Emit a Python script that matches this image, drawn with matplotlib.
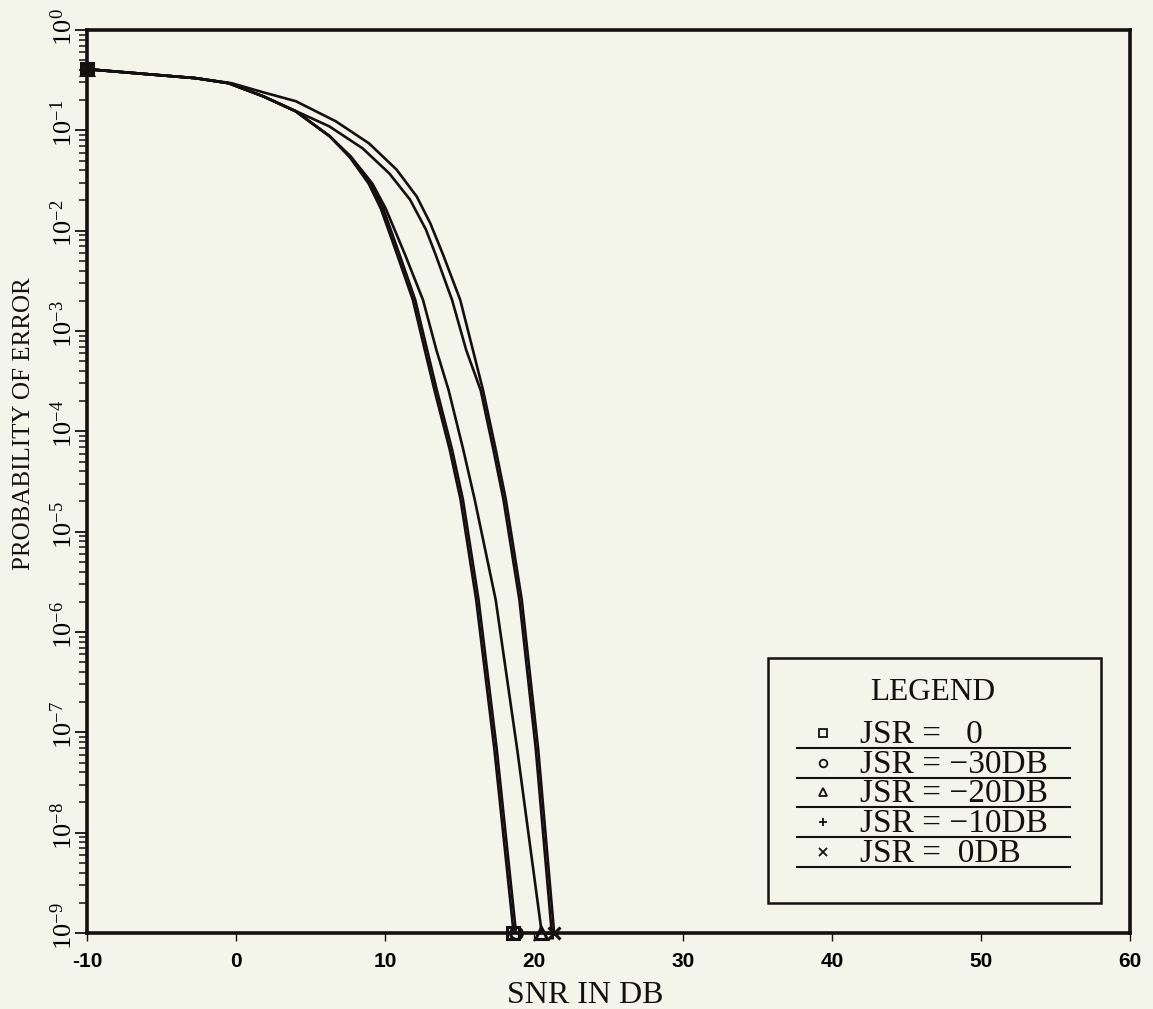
import matplotlib
matplotlib.use("Agg")
import matplotlib.pyplot as plt
import matplotlib.ticker as mticker
from matplotlib.patches import Rectangle
import numpy as np

plt.rcParams['font.family'] = ['Liberation Serif', 'DejaVu Serif']
plt.rcParams['mathtext.fontset'] = 'stix'
plt.rcParams['axes.unicode_minus'] = False

# ---------------- data ----------------
# probability-of-error levels shared by the JSR=0, -30 dB and -20 dB curves
pe_levels_ab = [0.407, 0.331, 0.295, 0.219, 0.155, 0.0871, 0.0550, 0.0295, 0.0166,
                5.75e-3, 2.04e-3, 6.46e-4, 2.57e-4, 6.6e-5, 2.09e-5, 2.09e-6, 6.8e-8,
                1.23e-9, 1.0e-9]
snr_jsr_none = [-10, -2.7, -0.5, 1.8, 4.0, 6.3, 7.6, 8.9, 9.72, 10.82, 11.87, 12.67,
                13.32, 14.34, 15.07, 16.12, 17.34, 18.57, 18.62]
snr_jsr_m30 = [-10, -2.7, -0.5, 1.8, 4.0, 6.3, 7.6, 9.06, 9.88, 10.98, 12.03, 12.83,
               13.48, 14.50, 15.23, 16.28, 17.50, 18.73, 18.78]
snr_jsr_m20 = [-10, -2.7, -0.5, 1.8, 4.0, 6.3, 7.7, 9.15, 10.05, 11.35, 12.55, 13.45,
               14.27, 15.25, 16.02, 17.43, 18.87, 20.44, 20.50]

pe_levels_m10 = [0.407, 0.331, 0.295, 0.219, 0.166, 0.1096, 0.0661, 0.0372, 0.0204,
                 0.01023, 5.75e-3, 2.04e-3, 6.46e-4, 2.57e-4, 6.6e-5, 2.09e-5, 2.09e-6,
                 6.8e-8, 1.23e-9, 1.0e-9]
snr_jsr_m10 = [-10, -2.7, -0.5, 1.8, 3.6, 6.26, 8.5, 10.29, 11.68, 12.75, 13.4, 14.5,
               15.45, 16.42, 17.27, 17.95, 19.02, 20.12, 21.14, 21.19]

pe_levels_0db = [0.407, 0.331, 0.295, 0.240, 0.195, 0.123, 0.0741, 0.0407, 0.0219,
                 0.01175, 5.75e-3, 2.04e-3, 6.46e-4, 2.57e-4, 6.6e-5, 2.09e-5, 2.09e-6,
                 6.8e-8, 1.23e-9, 1.0e-9]
snr_jsr_0db = [-10, -2.7, -0.3, 1.8, 4.02, 6.7, 8.93, 10.77, 12.13, 13.05, 13.9, 15.05,
               15.9, 16.58, 17.43, 18.11, 19.18, 20.28, 21.30, 21.35]

legend_labels = ["JSR =   0", "JSR = \u221230DB", "JSR = \u221220DB",
                 "JSR = \u221210DB", "JSR =  0DB"]
legend_markers = ['s', 'o', '^', '+', 'x']
series_x = [snr_jsr_none, snr_jsr_m30, snr_jsr_m20, snr_jsr_m10, snr_jsr_0db]
series_y = [pe_levels_ab, pe_levels_ab, pe_levels_ab, pe_levels_m10, pe_levels_0db]

x_ticks = [-10, 0, 10, 20, 30, 40, 50, 60]

# ---------------- figure ----------------
INK = '#151010'
BG = '#f3f4ea'
W, H = 1153, 1009
fig = plt.figure(figsize=(W / 100, H / 100), dpi=100, facecolor=BG)
ax = fig.add_axes([87 / W, (H - 933) / H, 1043 / W, 903 / H])
ax.set_facecolor(BG)

for xs, ys, m in zip(series_x, series_y, legend_markers):
    ax.plot(xs, ys, color=INK, lw=1.9, solid_joinstyle='round',
            solid_capstyle='round', marker=m, markevery=[0, len(xs) - 1],
            ms=8.5, mfc='none', mec=INK, mew=2.2, clip_on=False, zorder=3)

ax.set_yscale('log')
ax.set_xlim(-10, 60)
ax.set_ylim(1e-9, 1e0)
ax.set_xticks(x_ticks)
ax.yaxis.set_major_locator(mticker.LogLocator(base=10, numticks=20))
ax.yaxis.set_minor_locator(mticker.LogLocator(base=10, subs=np.arange(2, 10), numticks=200))
ax.yaxis.set_minor_formatter(mticker.NullFormatter())


def ylab(v, pos):
    k = int(round(np.log10(v)))
    gap = 0.35 if k >= 0 else 0.75
    return r"$\mathdefault{\hspace{%s}10^{%d}}$" % (gap, k)


ax.yaxis.set_major_formatter(mticker.FuncFormatter(ylab))

for s in ax.spines.values():
    s.set_linewidth(2.6)
    s.set_color(INK)

ax.tick_params(axis='y', which='major', direction='out', length=8.6, width=1.3,
               color=INK, labelsize=19, pad=-1.4, labelrotation=90)
ax.tick_params(axis='y', which='minor', direction='out', length=5.8, width=1.1, color=INK)
ax.tick_params(axis='x', which='major', direction='out', length=6, width=1.0,
               color=INK, labelsize=15, pad=8)
ax.minorticks_on()
ax.xaxis.set_minor_locator(mticker.NullLocator())

fig.canvas.draw()
for t in ax.get_yticklabels():
    t.set_va('center')
for t in ax.get_xticklabels():
    t.set_fontfamily(['Liberation Sans', 'DejaVu Sans'])
    t.set_fontweight('bold')

ax.set_xlabel("SNR IN DB", fontsize=23, color=INK)
ax.xaxis.label.set_va('baseline')
ax.xaxis.set_label_coords(0.478, -0.0775)
ax.set_ylabel("PROBABILITY OF ERROR", fontsize=18, color=INK)
ax.yaxis.label.set_va('center')
ax.yaxis.set_label_coords(-0.060, 0.564)

# ---------------- legend box (drawn like the original plot package) ----------------
ax.add_patch(Rectangle((0.653, 0.0332), 0.319, 0.2713, transform=ax.transAxes,
                       facecolor=BG, edgecolor=INK, lw=1.8, zorder=5, clip_on=False))
ax.text(0.811, 0.258, "LEGEND", transform=ax.transAxes, ha='center', va='baseline',
        fontsize=22.5, color=INK, zorder=6)
baselines = [0.2104, 0.1772, 0.1451, 0.1118, 0.0786]
underlines = [0.2049, 0.1717, 0.1395, 0.1063, 0.0731]
mark_y = [0.2215, 0.1883, 0.1561, 0.1229, 0.0897]
for lab, m, yb, yu, ym in zip(legend_labels, legend_markers, baselines, underlines, mark_y):
    ax.text(0.741, yb, lab, transform=ax.transAxes, ha='left', va='baseline',
            fontsize=24, color=INK, zorder=6)
    ax.plot([0.681, 0.9425], [yu, yu], transform=ax.transAxes, color=INK, lw=1.5,
            zorder=6, clip_on=False)
    ax.plot([0.7057], [ym], transform=ax.transAxes, ls='none', marker=m, ms=5.5,
            mfc='none', mec=INK, mew=1.3, zorder=6, clip_on=False)

fig.savefig("out.png", dpi=100, facecolor=BG)
